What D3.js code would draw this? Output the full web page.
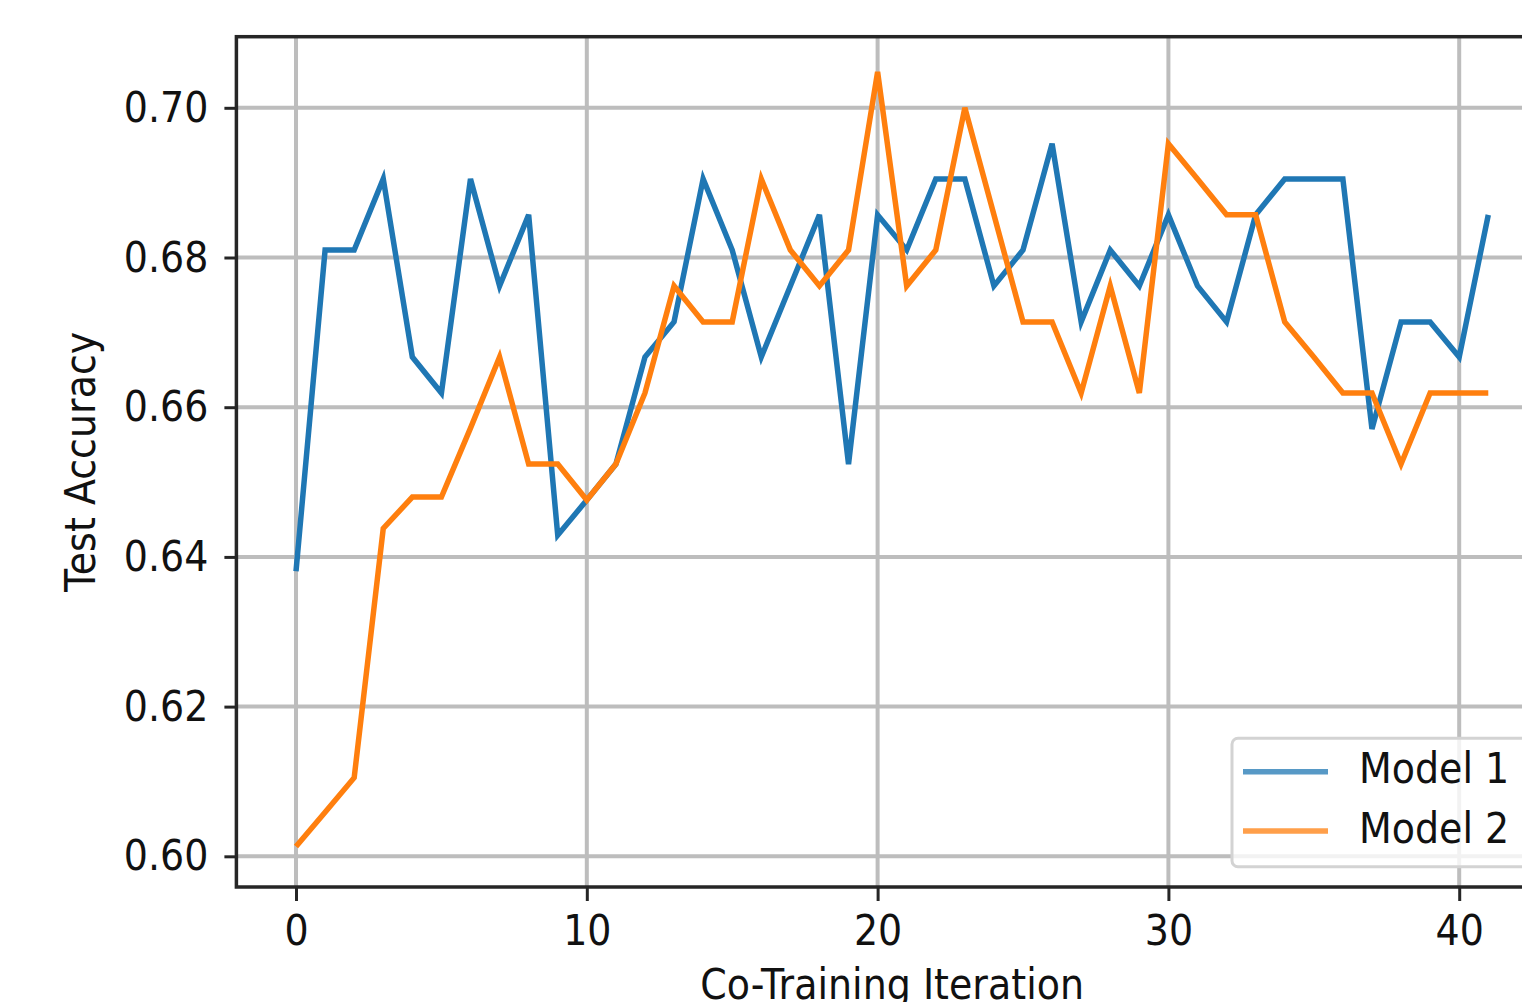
<!DOCTYPE html>
<html>
<head>
<meta charset="utf-8">
<script src="https://cdn.jsdelivr.net/npm/d3@7"></script>
<style>
body { margin: 0; background: #fff; overflow: hidden; }
text { font-family: "DejaVu Sans", sans-serif; fill: #000; }
</style>
</head>
<body>
<div class="chart"></div>
<script>
var iterations = [0, 1, 2, 3, 4, 5, 6, 7, 8, 9, 10, 11, 12, 13, 14, 15, 16, 17, 18, 19, 20,
  21, 22, 23, 24, 25, 26, 27, 28, 29, 30, 31, 32, 33, 34, 35, 36, 37, 38, 39, 40, 41]

var model1 = [0.6381, 0.6810, 0.6810, 0.6905, 0.6667, 0.6619, 0.6905, 0.6762, 0.6857, 0.6429,
  0.6476, 0.6524, 0.6667, 0.6714, 0.6905, 0.6810, 0.6667, 0.6762, 0.6857, 0.6524,
  0.6857, 0.6810, 0.6905, 0.6905, 0.6762, 0.6810, 0.6952, 0.6714, 0.6810, 0.6762,
  0.6857, 0.6762, 0.6714, 0.6857, 0.6905, 0.6905, 0.6905, 0.6571, 0.6714, 0.6714,
  0.6667, 0.6857]

var model2 = [0.6013, 0.6059, 0.6105, 0.6438, 0.6480, 0.6480, 0.6572, 0.6667, 0.6524, 0.6524,
  0.6476, 0.6524, 0.6619, 0.6762, 0.6714, 0.6714, 0.6905, 0.6810, 0.6762, 0.6810,
  0.7048, 0.6762, 0.6810, 0.7000, 0.6857, 0.6714, 0.6714, 0.6619, 0.6762, 0.6619,
  0.6952, 0.6905, 0.6857, 0.6857, 0.6714, 0.6667, 0.6619, 0.6619, 0.6524, 0.6619,
  0.6619, 0.6619]

var seriesNames = ['Model 1', 'Model 2']
var xTicks = [0, 10, 20, 30, 40]
var yTicks = [0.60, 0.62, 0.64, 0.66, 0.68, 0.70]
var xTitle = 'Co-Training Iteration'
var yTitle = 'Test Accuracy'

var colors = ['#1f77b4', '#ff7f0e']
var stretch = 'scale(1,1.12)'
var fontSize = 38

var width = 1522
var height = 1002
var plot = {left: 236.4, top: 36.7, right: 1547.9, bottom: 887}

var svg = d3.select('.chart')
  .append('svg')
  .attr('width', width)
  .attr('height', height)

var x = d3.scaleLinear()
  .domain([-2.05, 43.05])
  .range([plot.left, plot.right])

var y = d3.scaleLinear()
  .domain([0.5959, 0.7095])
  .range([plot.bottom, plot.top])

// grid
svg.append('g')
  .selectAll('line')
  .data(xTicks)
  .enter().append('line')
  .attr('x1', d => x(d)).attr('x2', d => x(d))
  .attr('y1', plot.top).attr('y2', plot.bottom)
  .style('stroke', '#bdbdbd')
  .style('stroke-width', 4)

svg.append('g')
  .selectAll('line')
  .data(yTicks)
  .enter().append('line')
  .attr('x1', plot.left).attr('x2', plot.right)
  .attr('y1', d => y(d)).attr('y2', d => y(d))
  .style('stroke', '#bdbdbd')
  .style('stroke-width', 4)

// lines
var line = d3.line()
  .x((d, i) => x(iterations[i]))
  .y(d => y(d))

var series = [model1, model2]
series.forEach(function (s, k) {
  svg.append('path')
    .datum(s)
    .attr('d', line)
    .style('fill', 'none')
    .style('stroke', colors[k])
    .style('stroke-width', 5.5)
    .style('stroke-linejoin', 'miter')
})

// axes
var xAxis = svg.append('g')
  .attr('transform', 'translate(0,' + plot.bottom + ')')
  .call(d3.axisBottom(x).tickValues(xTicks).tickSizeInner(14).tickSizeOuter(0).tickPadding(11))
var yAxis = svg.append('g')
  .attr('transform', 'translate(' + plot.left + ',0)')
  .call(d3.axisLeft(y).tickValues(yTicks).tickFormat(d3.format('.2f')).tickSizeInner(12).tickSizeOuter(0).tickPadding(16))

;[xAxis, yAxis].forEach(function (a) {
  a.select('.domain').remove()
  a.selectAll('.tick line').style('stroke', '#262626').style('stroke-width', 3)
  a.selectAll('.tick text')
    .style('font-size', fontSize + 'px')
    .style('font-family', '"DejaVu Sans", sans-serif')
    .style('fill', '#111')
    .attr('transform', stretch)
})

// spines
svg.append('rect')
  .attr('x', plot.left)
  .attr('y', plot.top)
  .attr('width', plot.right - plot.left)
  .attr('height', plot.bottom - plot.top)
  .style('fill', 'none')
  .style('stroke', '#262626')
  .style('stroke-width', 3.5)

// axis titles
svg.append('g')
  .attr('transform', 'translate(' + ((plot.left + plot.right) / 2) + ',999) ' + stretch)
  .append('text')
  .attr('text-anchor', 'middle')
  .style('font-size', fontSize + 'px')
  .style('fill', '#111')
  .text(xTitle)

svg.append('g')
  .attr('transform', 'translate(95,' + ((plot.top + plot.bottom) / 2 + 0) + ') rotate(-90) ' + stretch)
  .append('text')
  .attr('text-anchor', 'middle')
  .style('font-size', fontSize + 'px')
  .style('fill', '#111')
  .text(yTitle)

// legend
var legend = svg.append('g')
legend.append('rect')
  .attr('x', 1232)
  .attr('y', 738.3)
  .attr('width', 300)
  .attr('height', 128.4)
  .attr('rx', 6)
  .style('fill', 'rgba(255,255,255,0.8)')
  .style('stroke', '#d3d3d3')
  .style('stroke-width', 3)

seriesNames.forEach(function (name, k) {
  var ly = 771.7 + k * 59.3
  legend.append('line')
    .attr('x1', 1243).attr('x2', 1328)
    .attr('y1', ly).attr('y2', ly)
    .style('stroke', colors[k])
    .style('stroke-width', 5.5)
    .style('opacity', 0.75)
  legend.append('g')
    .attr('transform', 'translate(1359,' + (ly + 11.6) + ') ' + stretch)
    .append('text')
    .style('font-size', fontSize + 'px')
    .style('fill', '#111')
    .text(name)
})
</script>
</body>
</html>
